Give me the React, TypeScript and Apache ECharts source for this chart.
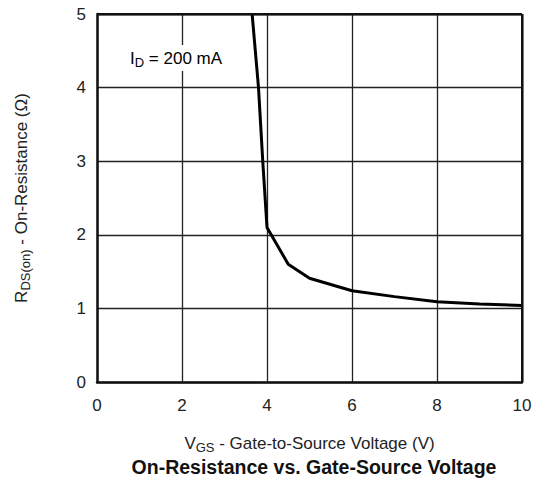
import React, { useEffect, useRef } from "react";
import * as echarts from "echarts";

const vgs = [3.65, 3.8, 3.9, 4.0, 4.5, 5.0, 6.0, 7.0, 8.0, 9.0, 10.0];
const rdsOn = [5.0, 4.0, 3.0, 2.1, 1.6, 1.41, 1.24, 1.16, 1.09, 1.06, 1.04];
const xTicks = [0, 2, 4, 6, 8, 10];
const yTicks = [0, 1, 2, 3, 4, 5];

const FONT = "'Liberation Sans', Arial, sans-serif";

export default function App() {
  const ref = useRef<HTMLDivElement>(null);
  useEffect(() => {
    if (!ref.current) return;
    const chart = echarts.init(ref.current, null, { renderer: "svg" });
    const subRich = {
      m: { fontSize: 17, fontFamily: FONT, color: "#222", lineHeight: 22 },
      s: { fontSize: 13, fontFamily: FONT, color: "#222", lineHeight: 13, verticalAlign: "bottom" },
    };
    chart.setOption({
      animation: false,
      backgroundColor: "#fff",
      title: {
        text: "On-Resistance vs. Gate-Source Voltage",
        left: 314,
        top: 456,
        padding: 0,
        textAlign: "center",
        textStyle: { fontFamily: FONT, fontSize: 19.5, fontWeight: "bold", color: "#111", lineHeight: 22 },
      },
      grid: { left: 97, right: 20, top: 14, bottom: 101, show: false },
      xAxis: {
        type: "value",
        min: xTicks[0],
        max: xTicks[xTicks.length - 1],
        interval: 2,
        name: "{m|V}{s|GS}{m| - Gate-to-Source Voltage (V)}",
        nameLocation: "middle",
        nameGap: 50,
        nameTextStyle: { rich: subRich },
        axisLine: { show: true, lineStyle: { color: "#111", width: 2.5 } },
        axisTick: { show: false },
        axisLabel: { fontFamily: FONT, fontSize: 17, color: "#222", margin: 15 },
        splitLine: { show: true, lineStyle: { color: "#222", width: 1.3 } },
      },
      yAxis: {
        type: "value",
        min: yTicks[0],
        max: yTicks[yTicks.length - 1],
        interval: 1,
        name: "{m|R}{s|DS(on)}{m| - On-Resistance (Ω)}",
        nameLocation: "middle",
        nameGap: 65,
        nameTextStyle: { rich: subRich },
        axisLine: { show: true, lineStyle: { color: "#111", width: 2.5 } },
        axisTick: { show: false },
        axisLabel: { fontFamily: FONT, fontSize: 17, color: "#222", margin: 11 },
        splitLine: { show: true, lineStyle: { color: "#222", width: 1.3 } },
      },
      graphic: [
        {
          type: "rect",
          left: 522 - 1,
          top: 14,
          shape: { width: 2.5, height: 368 },
          style: { fill: "#111" },
          z: 10,
        },
        {
          type: "rect",
          left: 97,
          top: 13,
          shape: { width: 425, height: 2.5 },
          style: { fill: "#111" },
          z: 10,
        },
        {
          type: "text",
          left: 127,
          top: 45,
          z: 20,
          style: {
            text: "{m|I}{s|D}{m| = 200 mA}",
            backgroundColor: "#fff",
            padding: [2, 3, 2, 3],
            rich: subRich,
          },
        },
      ],
      series: [
        {
          type: "line",
          data: vgs.map((x, i) => [x, rdsOn[i]]),
          showSymbol: false,
          lineStyle: { color: "#000", width: 3 },
          clip: true,
          z: 5,
        },
      ],
    });
    return () => chart.dispose();
  }, []);
  return (
    <div
      ref={ref}
      style={{ position: "fixed", left: 0, top: 0, width: 542, height: 483 }}
    />
  );
}
